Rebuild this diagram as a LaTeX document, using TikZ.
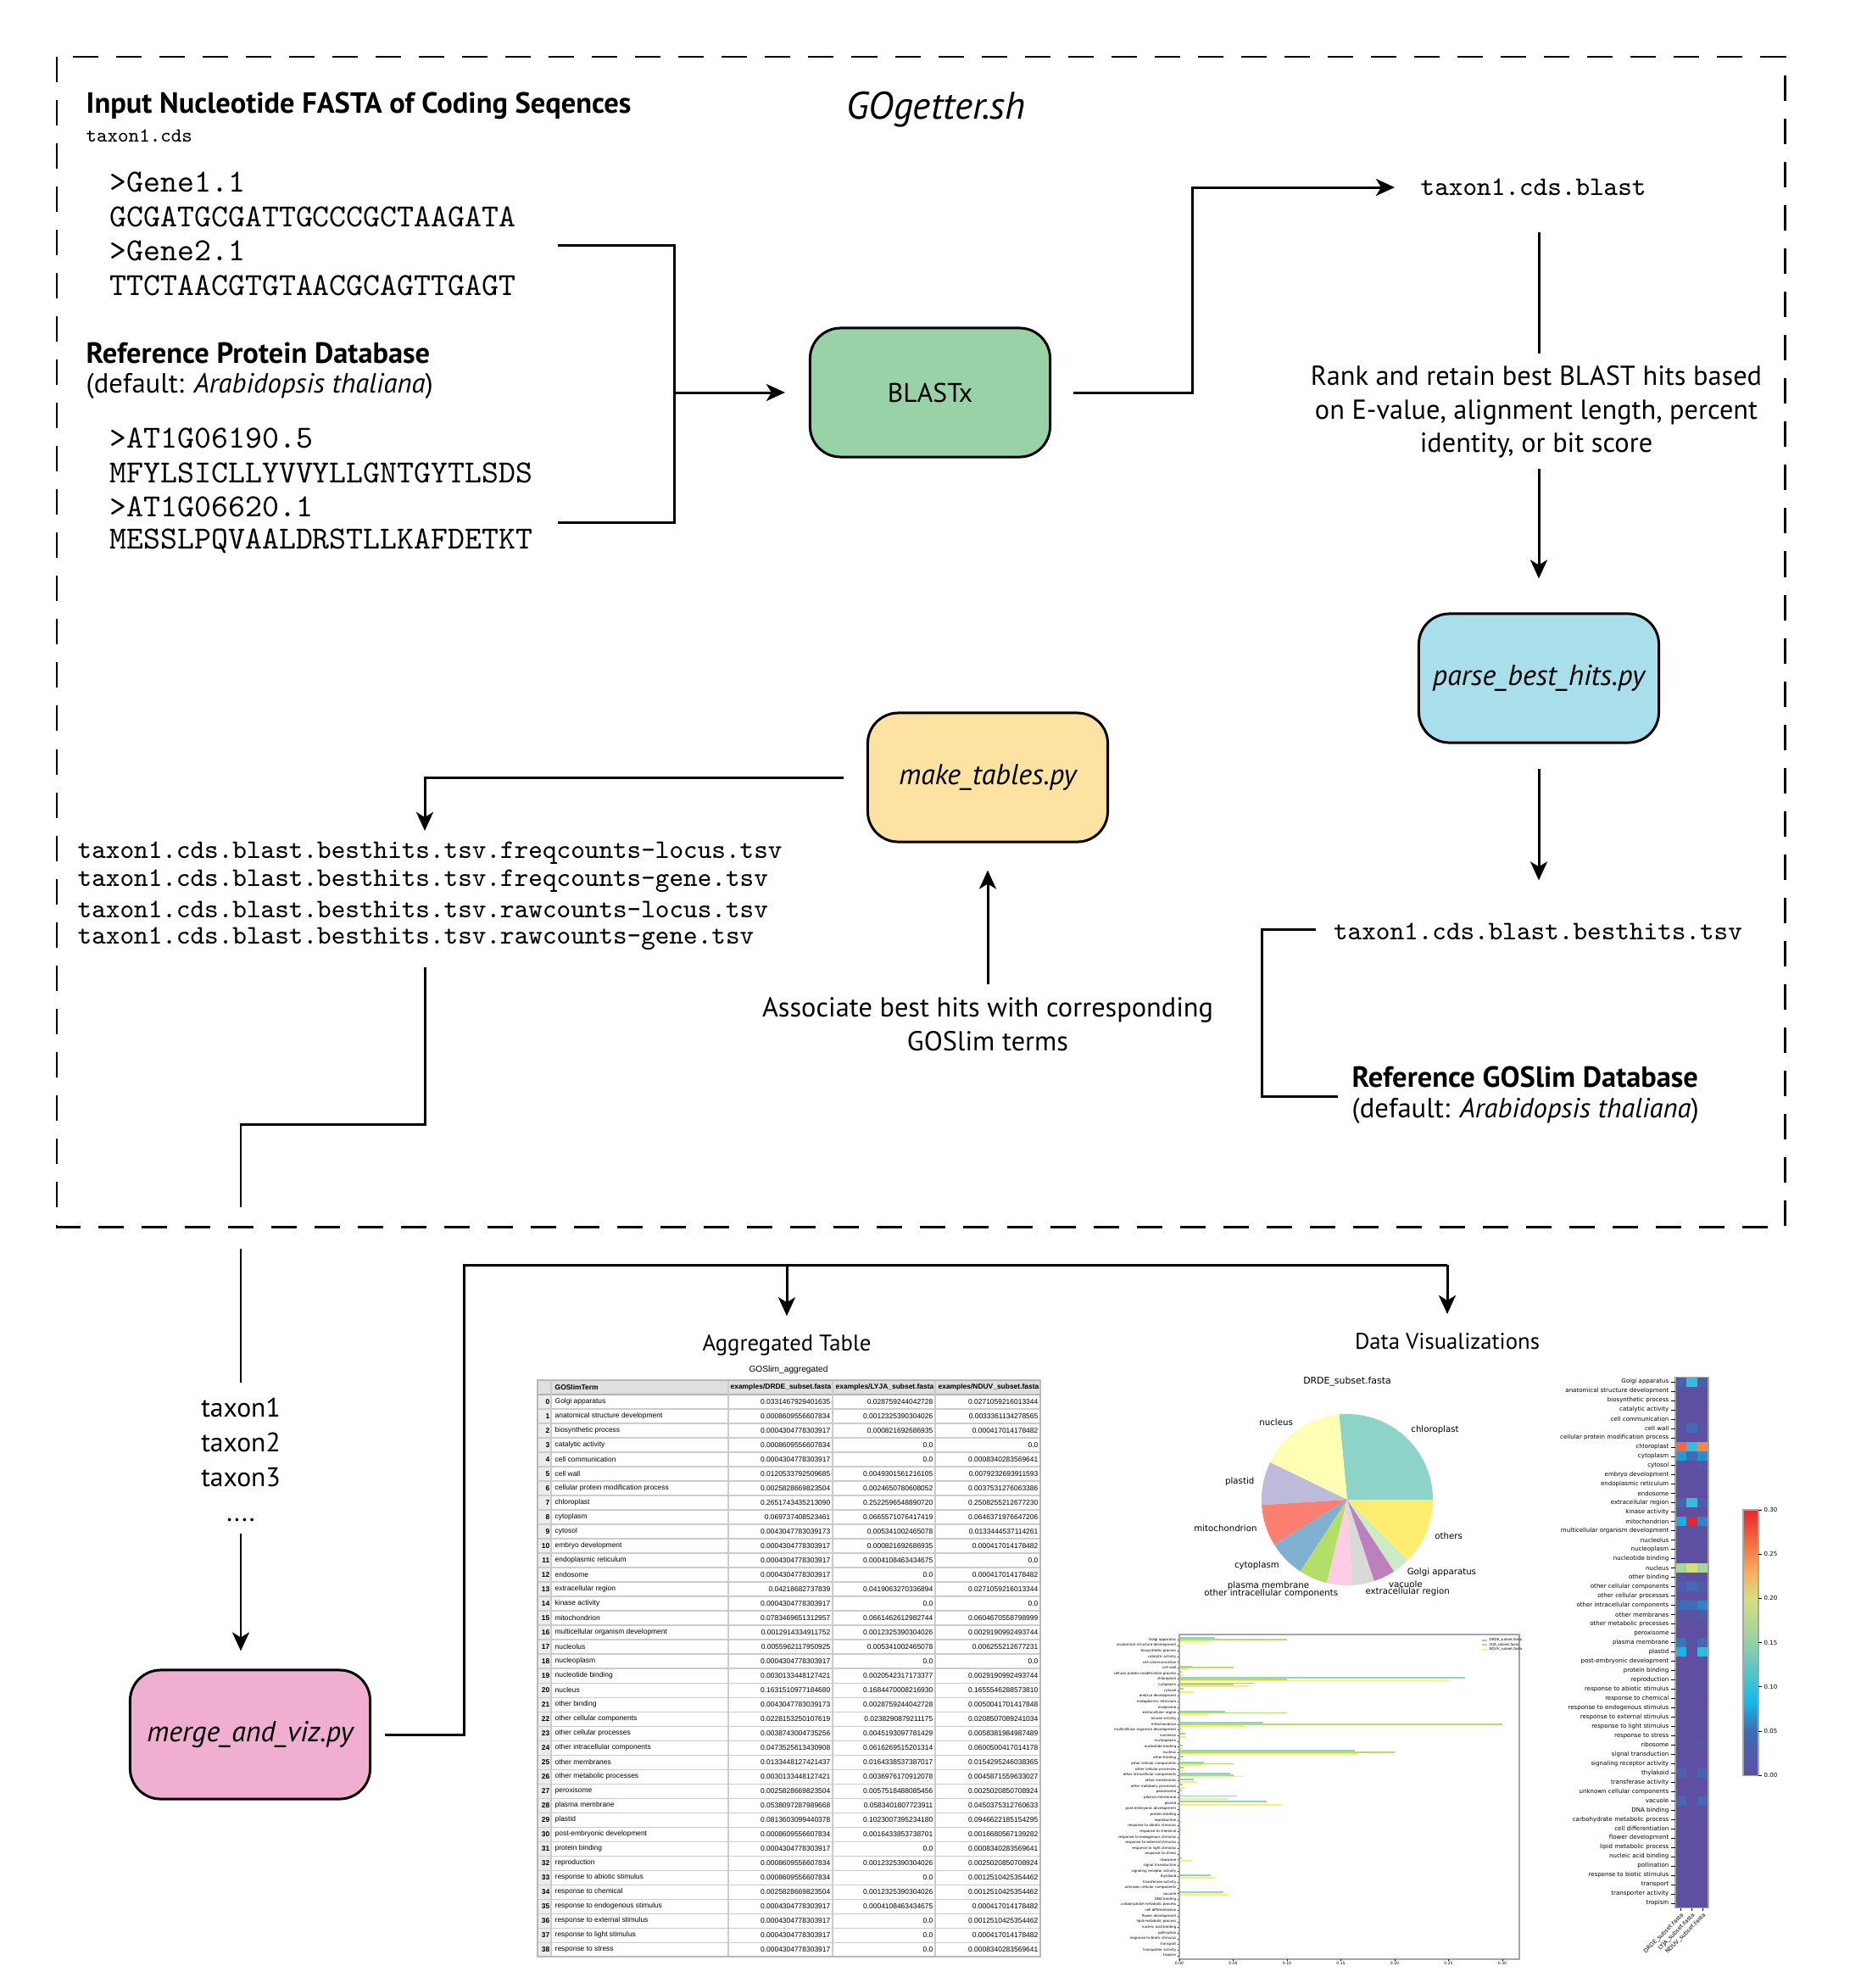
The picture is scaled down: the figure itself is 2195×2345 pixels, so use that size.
\documentclass[tikz,border=0pt]{standalone}
\usepackage{fontspec}
\setmainfont{PT Sans}
\newfontfamily\tabfont{Liberation Sans}
\newfontfamily\plotfont{DejaVu Sans}
\usepackage{xcolor}
\usetikzlibrary{arrows.meta}
\usetikzlibrary{calc}

\definecolor{blastfill}{HTML}{98D2A6}
\definecolor{parsefill}{HTML}{A9DEEB}
\definecolor{tablefill}{HTML}{FDE2A2}
\definecolor{mergefill}{HTML}{F0AFD0}
% Set3 colours of the pie and the bars
\definecolor{pcA}{HTML}{8DD3C7}
\definecolor{pcB}{HTML}{FFFFB3}
\definecolor{pcC}{HTML}{BEBADA}
\definecolor{pcD}{HTML}{FB8072}
\definecolor{pcE}{HTML}{80B1D3}
\definecolor{pcF}{HTML}{B3DE69}
\definecolor{pcG}{HTML}{FCCDE5}
\definecolor{pcH}{HTML}{D9D9D9}
\definecolor{pcI}{HTML}{BC80BD}
\definecolor{pcJ}{HTML}{CCEBC5}
\definecolor{pcK}{HTML}{FFED6F}
% heatmap colour scale, 0.00 to 0.30
\definecolor{hm0}{HTML}{5E4FA2}
\definecolor{hm1}{HTML}{3F6CB5}
\definecolor{hm2}{HTML}{14BCEA}
\definecolor{hm3}{HTML}{5CC5C1}
\definecolor{hm4}{HTML}{A3D49E}
\definecolor{hm5}{HTML}{D6DF7C}
\definecolor{hm6}{HTML}{F9AE5E}
\definecolor{hm7}{HTML}{F16A3F}
\definecolor{hm8}{HTML}{E7262B}

\newcommand{\hmmix}[4]{\pgfmathtruncatemacro{\hmp}{100*(\hmv-#3)/(#4-#3)}\colorlet{hmc}{#2!\hmp!#1}}
\newcommand{\hmset}[1]{%
  \pgfmathsetmacro{\hmv}{min(#1,0.3)}%
  \ifdim\hmv pt<0.05pt \hmmix{hm0}{hm1}{0}{0.05}%
  \else\ifdim\hmv pt<0.085pt \hmmix{hm1}{hm2}{0.05}{0.085}%
  \else\ifdim\hmv pt<0.12pt \hmmix{hm2}{hm3}{0.085}{0.12}%
  \else\ifdim\hmv pt<0.16pt \hmmix{hm3}{hm4}{0.12}{0.16}%
  \else\ifdim\hmv pt<0.2pt \hmmix{hm4}{hm5}{0.16}{0.2}%
  \else\ifdim\hmv pt<0.23pt \hmmix{hm5}{hm6}{0.2}{0.23}%
  \else\ifdim\hmv pt<0.265pt \hmmix{hm6}{hm7}{0.23}{0.265}%
  \else \hmmix{hm7}{hm8}{0.265}{0.3}%
  \fi\fi\fi\fi\fi\fi\fi}

\def\golist{Golgi apparatus,anatomical structure development,biosynthetic process,catalytic activity,cell communication,cell wall,cellular protein modification process,chloroplast,cytoplasm,cytosol,embryo development,endoplasmic reticulum,endosome,extracellular region,kinase activity,mitochondrion,multicellular organism development,nucleolus,nucleoplasm,nucleotide binding,nucleus,other binding,other cellular components,other cellular processes,other intracellular components,other membranes,other metabolic processes,peroxisome,plasma membrane,plastid,post-embryonic development,protein binding,reproduction,response to abiotic stimulus,response to chemical,response to endogenous stimulus,response to external stimulus,response to light stimulus,response to stress,ribosome,signal transduction,signaling receptor activity,thylakoid,transferase activity,unknown cellular components,vacuole,DNA binding,carbohydrate metabolic process,cell differentiation,flower development,lipid metabolic process,nucleic acid binding,pollination,response to biotic stimulus,transport,transporter activity,tropism}

\def\govals{0/0.0331/0.10/0.0271, 1/0.00086/0/0.00334, 2/0.00043/0/0.00042, 3/0.00086/0/0, 4/0.00043/0/0.00083, 5/0.0121/0.05/0.0079, 6/0.0026/0/0.0038, 7/0.2652/0.10/0.2508, 8/0.0697/0.05/0.0646, 9/0.0043/0/0.0133, 10/0.00043/0/0.00042, 11/0.00043/0/0, 12/0.00043/0/0.00042, 13/0.0422/0.10/0.0271, 14/0.00043/0/0, 15/0.0783/0.30/0.0605, 16/0.0013/0/0.0029, 17/0.0056/0/0.0063, 18/0.00043/0/0, 19/0.0030/0/0.0029, 20/0.1632/0.20/0.1656, 21/0.0043/0/0.0050, 22/0.0228/0.05/0.0209, 23/0.0039/0/0.0058, 24/0.0474/0.05/0.0601, 25/0.0133/0/0.0154, 26/0.0030/0/0.0046, 27/0.0026/0/0.0025, 28/0.0538/0/0.0450, 29/0.0814/0/0.0947, 30/0.00086/0/0.00167, 31/0.00043/0/0.00083, 32/0.00086/0/0.0025, 33/0.00086/0/0.00125, 34/0.0026/0/0.00125, 35/0.00043/0/0.00042, 36/0.00043/0/0.00125, 37/0.00043/0/0.00042, 38/0.00043/0/0.00083, 39/0.0026/0/0.0123, 40/0/0/0, 41/0/0/0, 42/0.0291/0/0.0330, 43/0/0/0, 44/0/0/0, 45/0.0410/0/0.0456, 46/0/0/0, 47/0/0/0, 48/0/0/0, 49/0/0/0, 50/0/0/0, 51/0/0/0, 52/0/0/0.0008, 53/0/0/0, 54/0/0/0, 55/0/0/0, 56/0/0/0.0008}

\begin{document}
\begin{tikzpicture}[x=0.01cm, y=-0.01cm,
    link/.style={line width=0.85pt},
    arr/.style={line width=0.85pt, -{Stealth[length=0.22cm, width=0.2cm, inset=0.06cm]}},
    procbox/.style={draw, line width=0.85pt, rounded corners=0.36cm, minimum width=2.83cm, minimum height=1.52cm, font=\itshape\fontsize{9.7}{11}\selectfont},
    seqline/.style={anchor=west, inner sep=0pt, font=\ttfamily\fontsize{10.8}{12}\selectfont},
    fileline/.style={anchor=west, inner sep=0pt, font=\ttfamily\fontsize{9}{10}\selectfont},
    heading/.style={anchor=west, inner sep=0pt, font=\bfseries\fontsize{9.8}{11}\selectfont},
    plain/.style={inner sep=0pt, align=center, font=\fontsize{9.2}{11.3}\selectfont},
    tabcell/.style={inner sep=0pt, font=\tabfont\fontsize{2.4}{2.8}\selectfont},
    plotlabel/.style={inner sep=0pt, font=\plotfont\fontsize{2}{2.4}\selectfont},
    barlabel/.style={inner sep=0pt, font=\plotfont\fontsize{1.15}{1.3}\selectfont}]
    \useasboundingbox (0,0) rectangle (2195,2345);

    % pipeline frame
    \draw[line width=0.85pt, dash pattern=on 0.3cm off 0.21cm] (67,67) rectangle (2105,1447);
    \node[font=\itshape\fontsize{12.9}{14}\selectfont] (title) at (1104,129) {GOgetter.sh};

    % inputs
    \node[heading] (inhead) at (101,125) {Input Nucleotide FASTA of Coding Seqences};
    \node[anchor=west, inner sep=0pt, font=\ttfamily\fontsize{6.7}{8}\selectfont] (infile) at (101,160) {taxon1.cds};
    \foreach \s [count=\k] in {>Gene1.1, GCGATGCGATTGCCCGCTAAGATA, >Gene2.1, TTCTAACGTGTAACGCAGTTGAGT}
        \node[seqline] (gene\k) at (129,{215+40.5*(\k-1)}) {\s};
    \node[heading] (refhead) at (101,416) {Reference Protein Database};
    \node[anchor=west, inner sep=0pt, font=\fontsize{9.3}{11}\selectfont] (refdef) at (101,455) {(default: \textit{Arabidopsis thaliana})};
    \foreach \s [count=\k] in {>AT1G06190.5, MFYLSICLLYVVYLLGNTGYTLSDS, >AT1G06620.1, MESSLPQVAALDRSTLLKAFDETKT}
        \node[seqline] (prot\k) at (129,{517+40.5*(\k-1)}) {\s};

    % process boxes
    \node[procbox, fill=blastfill, font=\fontsize{9}{11}\selectfont] (blastx) at (1097,463) {BLASTx};
    \node[procbox, fill=parsefill] (parse) at (1815,800) {parse\_best\_hits.py};
    \node[procbox, fill=tablefill] (maketab) at (1165,917) {make\_tables.py};
    \node[procbox, fill=mergefill] (merge) at (295,2046) {merge\_and\_viz.py};

    \node[fileline] (blastout) at (1675,221) {taxon1.cds.blast};
    \node[plain] (rank) at (1812,486) {Rank and retain best BLAST hits based\\on E-value, alignment length, percent\\identity, or bit score};
    \node[fileline, anchor=center] (besthits) at (1814,1099) {taxon1.cds.blast.besthits.tsv};
    \node[heading] (gohead) at (1594,1270) {Reference GOSlim Database};
    \node[anchor=west, inner sep=0pt, font=\fontsize{9.3}{11}\selectfont] (godef) at (1594,1310) {(default: \textit{Arabidopsis thaliana})};
    \node[plain] (assoc) at (1165,1208) {Associate best hits with corresponding\\GOSlim terms};
    \foreach \s [count=\k] in {freqcounts-locus, freqcounts-gene, rawcounts-locus, rawcounts-gene}
        \node[fileline] (file\k) at (91,{1006+33.6*(\k-1)}) {taxon1.cds.blast.besthits.tsv.\s.tsv};
    \node[plain, font=\fontsize{9}{11.6}\selectfont] (taxa) at (284,1722) {taxon1\\taxon2\\taxon3\\....};
    \node[font=\fontsize{7.6}{9}\selectfont] (aggtitle) at (928,1587) {Aggregated Table};
    \node[font=\fontsize{7.6}{9}\selectfont] (vistitle) at (1707,1582) {Data Visualizations};

    % connectors
    \coordinate (inTop) at (658,289);
    \coordinate (inBot) at (658,616);
    \coordinate (inJoin) at (795,463);
    \draw[link] (inTop) -- (795,289) -- (795,616) -- (inBot);
    \draw[arr, shorten >=0.28cm] (inJoin) -- (blastx.west);
    \draw[arr, shorten <=0.26cm, shorten >=0.3cm] (blastx.east) -- (1406,463) |- (blastout.west);
    \draw[link, shorten <=0.42cm, shorten >=0.14cm] (blastout.south -| parse.north) -- (rank.north -| parse.north);
    \draw[arr, shorten <=0.12cm, shorten >=0.4cm] (rank.south -| parse.north) -- (parse.north);
    \draw[arr, shorten <=0.29cm, shorten >=0.5cm] (parse.south) -- (parse.south |- besthits.north);
    \coordinate (gsTop) at (1552,1096);
    \coordinate (gsBot) at (1578,1293);
    \draw[link] (gsTop) -- (1488,1096) -- (1488,1293) -- (gsBot);
    \draw[arr, shorten <=0.15cm, shorten >=0.32cm] (assoc.north) -- (maketab.south);
    \coordinate (filesIn) at (501,980);
    \draw[arr, shorten <=0.27cm] (maketab.west) -- (501,917) -- (filesIn);
    \coordinate (filesOut) at (501,1141);
    \coordinate (boxExit) at (284,1424);
    \coordinate (boxOut) at (284,1473);
    \draw[link] (filesOut) -- (501,1326) -- (284,1326) -- (boxExit);
    \draw[link, shorten >=0.18cm] (boxOut) -- (taxa.north);
    \draw[arr, shorten <=0.14cm, shorten >=0.21cm] (taxa.south) -- (taxa.south |- merge.north);
    \coordinate (splitA) at (928,1492);
    \coordinate (splitB) at (1707,1492);
    \draw[link, shorten <=0.16cm] (merge.east) -- (547,2046) -- (547,1492) -- (splitB);
    \draw[arr, shorten >=0.1cm] (splitA) -- (aggtitle);
    \draw[arr, shorten >=0.1cm] (splitB) -- (vistitle);

    % aggregated table
    \node[tabcell, font=\tabfont\fontsize{2.9}{3.2}\selectfont] (tabtitle) at (930,1616) {GOSlim\_aggregated};
    \fill[gray!25] (634,1628) rectangle (1227,1645);
    \fill[gray!15] (634,1645) rectangle (650,2308);
    \node[tabcell, anchor=west, font=\tabfont\bfseries\fontsize{2.4}{2.8}\selectfont] (th0) at (654,1636.5) {GOSlimTerm};
    \node[tabcell, anchor=east, font=\tabfont\bfseries\fontsize{2.4}{2.8}\selectfont] (th1) at (981,1636.5) {examples/DRDE\_subset.fasta};
    \node[tabcell, anchor=east, font=\tabfont\bfseries\fontsize{2.4}{2.8}\selectfont] (th2) at (1102,1636.5) {examples/LYJA\_subset.fasta};
    \node[tabcell, anchor=east, font=\tabfont\bfseries\fontsize{2.4}{2.8}\selectfont] (th3) at (1226,1636.5) {examples/NDUV\_subset.fasta};
    \foreach \i/\t/\a/\b/\c in {0/Golgi apparatus/0.0331467929401635/0.028759244042728/0.0271059216013344,
        1/anatomical structure development/0.0008609556607834/0.0012325390304026/0.0033361134278565,
        2/biosynthetic process/0.0004304778303917/0.000821692686935/0.000417014178482,
        3/catalytic activity/0.0008609556607834/0.0/0.0,
        4/cell communication/0.0004304778303917/0.0/0.0008340283569641,
        5/cell wall/0.0120533792509685/0.0049301561216105/0.0079232693911593,
        6/cellular protein modification process/0.0025828669823504/0.0024650780608052/0.0037531276063386,
        7/chloroplast/0.2651743435213090/0.2522596548890720/0.2508255212677230,
        8/cytoplasm/0.069737408523461/0.0665571076417419/0.0646371976647206,
        9/cytosol/0.0043047783039173/0.005341002465078/0.0133444537114261,
        10/embryo development/0.0004304778303917/0.000821692686935/0.000417014178482,
        11/endoplasmic reticulum/0.0004304778303917/0.0004108463434675/0.0,
        12/endosome/0.0004304778303917/0.0/0.000417014178482,
        13/extracellular region/0.04218682737839/0.0419063270336894/0.0271059216013344,
        14/kinase activity/0.0004304778303917/0.0/0.0,
        15/mitochondrion/0.0783469651312957/0.0661462612982744/0.0604670558798999,
        16/multicellular organism development/0.0012914334911752/0.0012325390304026/0.0029190992493744,
        17/nucleolus/0.0055962117950925/0.005341002465078/0.006255212677231,
        18/nucleoplasm/0.0004304778303917/0.0/0.0,
        19/nucleotide binding/0.0030133448127421/0.0020542317173377/0.0029190992493744,
        20/nucleus/0.1631510977184680/0.1684470008216930/0.1655546288573810,
        21/other binding/0.0043047783039173/0.0028759244042728/0.0050041701417848,
        22/other cellular components/0.0228153250107619/0.0238290879211175/0.0208507089241034,
        23/other cellular processes/0.0038743004735256/0.0045193097781429/0.0058381984987489,
        24/other intracellular components/0.0473525613430908/0.0616269515201314/0.0600500417014178,
        25/other membranes/0.0133448127421437/0.0164338537387017/0.0154295246038365,
        26/other metabolic processes/0.0030133448127421/0.0036976170912078/0.0045871559633027,
        27/peroxisome/0.0025828669823504/0.0057518488085456/0.0025020850708924,
        28/plasma membrane/0.0538097287989668/0.0583401807723911/0.0450375312760633,
        29/plastid/0.0813603099440378/0.1023007395234180/0.0946622185154295,
        30/post-embryonic development/0.0008609556607834/0.0016433853738701/0.0016680567139282,
        31/protein binding/0.0004304778303917/0.0/0.0008340283569641,
        32/reproduction/0.0008609556607834/0.0012325390304026/0.0025020850708924,
        33/response to abiotic stimulus/0.0008609556607834/0.0/0.0012510425354462,
        34/response to chemical/0.0025828669823504/0.0012325390304026/0.0012510425354462,
        35/response to endogenous stimulus/0.0004304778303917/0.0004108463434675/0.000417014178482,
        36/response to external stimulus/0.0004304778303917/0.0/0.0012510425354462,
        37/response to light stimulus/0.0004304778303917/0.0/0.000417014178482,
        38/response to stress/0.0004304778303917/0.0/0.0008340283569641} {
        \draw[gray!40, line width=0.3pt] (634,{1662+17*\i}) -- (1227,{1662+17*\i});
        \node[tabcell, anchor=east, font=\tabfont\bfseries\fontsize{2.4}{2.8}\selectfont] (ti\i) at (649,{1653.5+17*\i}) {\i};
        \node[tabcell, anchor=west] (tt\i) at (654,{1653.5+17*\i}) {\t};
        \node[tabcell, anchor=east] (ta\i) at (980,{1653.5+17*\i}) {\a};
        \node[tabcell, anchor=east] (tb\i) at (1101,{1653.5+17*\i}) {\b};
        \node[tabcell, anchor=east] (tc\i) at (1225,{1653.5+17*\i}) {\c};
    }
    \draw[gray!60, line width=0.5pt] (634,1645) -- (1227,1645);
    \foreach \x in {650,859,982,1103}
        \draw[gray!40, line width=0.3pt] (\x,1628) -- (\x,2308);
    \draw[gray!55, line width=0.4pt] (634,1628) rectangle (1227,2308);

    % pie chart
    \coordinate (pie) at (1589,1769);
    \node[plotlabel, font=\plotfont\fontsize{3.1}{3.5}\selectfont] (pietitle) at (1589,1630) {DRDE\_subset.fasta};
    \foreach \a/\b/\c/\lab/\anc [count=\n] in {0/95.5/pcA/chloroplast/west, 95.5/154.2/pcB/nucleus/east,
        154.2/183.5/pcC/plastid/east, 183.5/211.7/pcD/mitochondrion/east, 211.7/236.8/pcE/cytoplasm/east,
        236.8/256.2/pcF/plasma membrane/east, 256.2/273.2/pcG/other intracellular components/east,
        273.2/288.4/pcH/extracellular region/west, 288.4/303.2/pcI/vacuole/west,
        303.2/315.1/pcJ/Golgi apparatus/west, 315.1/360/pcK/others/west} {
        \fill[\c] (pie) -- ([shift={(\a:1.01cm)}]pie) arc[start angle=\a, end angle=\b, radius=1.01cm] -- cycle;
        \node[plotlabel, font=\plotfont\fontsize{2.9}{3.3}\selectfont, anchor=\anc] (pl\n) at ($(pie)+({(\a+\b)/2}:1.11cm)$) {\lab};
    }

    % bar chart
    \foreach \k/\a/\b/\c in \govals {
        \fill[pcA] (1391,{1934+6.655*\k-2.7}) rectangle ({1391+1270*\a},{1934+6.655*\k-0.9});
        \fill[pcF] (1391,{1934+6.655*\k-0.9}) rectangle ({1391+1270*\b},{1934+6.655*\k+0.9});
        \fill[pcK] (1391,{1934+6.655*\k+0.9}) rectangle ({1391+1270*\c},{1934+6.655*\k+2.7});
    }
    \foreach \t [count=\k from 0] in \golist {
        \node[barlabel, anchor=east] (bl\k) at (1388,{1934+6.655*\k}) {\t};
        \draw[line width=0.1pt] (1389,{1934+6.655*\k}) -- (1391,{1934+6.655*\k});
    }
    \draw[gray!70, line width=0.35pt] (1391,1928) rectangle (1792,2311);
    \foreach \v in {0.00,0.05,0.10,0.15,0.20,0.25,0.30} {
        \draw[line width=0.1pt] ({1391+1270*\v},2311) -- ({1391+1270*\v},2313);
        \node[barlabel, font=\plotfont\fontsize{1.3}{1.5}\selectfont] (bx\v) at ({1391+1270*\v},2316) {\v};
    }
    \foreach \lab/\c [count=\n] in {DRDE\_subset.fasta/pcA, LYJA\_subset.fasta/pcF, NDUV\_subset.fasta/pcK} {
        \fill[\c] (1748,{1928+5.5*\n}) rectangle (1754,{1930+5.5*\n});
        \node[barlabel, anchor=west] (lg\n) at (1756,{1929+5.5*\n}) {\lab};
    }

    % heatmap
    \fill[hm0] (1976,1624.5) rectangle (2015,2250.5);
    \foreach \k/\a/\b/\c in \govals {
        \hmset{\a}\fill[hmc] (1976,{1624.5+10.98*\k}) rectangle (1989,{1635.5+10.98*\k});
        \hmset{\b}\fill[hmc] (1989,{1624.5+10.98*\k}) rectangle (2002,{1635.5+10.98*\k});
        \hmset{\c}\fill[hmc] (2002,{1624.5+10.98*\k}) rectangle (2015,{1635.5+10.98*\k});
    }
    \draw[gray!70, line width=0.3pt] (1976,1624.5) rectangle (2015,2250.5);
    \foreach \t [count=\k from 0] in \golist {
        \node[plotlabel, anchor=east] (hl\k) at (1969,{1630+10.98*\k}) {\t};
        \draw[line width=0.2pt] (1971,{1630+10.98*\k}) -- (1976,{1630+10.98*\k});
    }
    \foreach \lab/\x [count=\n] in {DRDE\_subset.fasta/1982.5, LYJA\_subset.fasta/1995.5, NDUV\_subset.fasta/2008.5} {
        \draw[line width=0.2pt] (\x,2250.5) -- (\x,2254);
        \node[plotlabel, font=\plotfont\fontsize{1.9}{2.2}\selectfont, rotate=45, anchor=north east] (hx\n) at (\x,2255) {\lab};
    }

    % colour bar
    \foreach \lo/\hi/\ca/\cb in {0/0.05/hm0/hm1, 0.05/0.085/hm1/hm2, 0.085/0.12/hm2/hm3, 0.12/0.16/hm3/hm4,
        0.16/0.2/hm4/hm5, 0.2/0.23/hm5/hm6, 0.23/0.265/hm6/hm7, 0.265/0.3/hm7/hm8}
        \shade[bottom color=\ca, top color=\cb] (2056,{2094-1043.3*\lo}) rectangle (2074,{2094-1043.3*\hi+0.3});
    \draw[gray!70, line width=0.3pt] (2056,1781) rectangle (2074,2094);
    \foreach \v [count=\n] in {0.00,0.05,0.10,0.15,0.20,0.25,0.30} {
        \draw[line width=0.2pt] (2074,{2094-1043.3*\v}) -- (2078,{2094-1043.3*\v});
        \node[plotlabel, anchor=west] (cb\n) at (2080,{2094-1043.3*\v}) {\v};
    }
\end{tikzpicture}
\end{document}
